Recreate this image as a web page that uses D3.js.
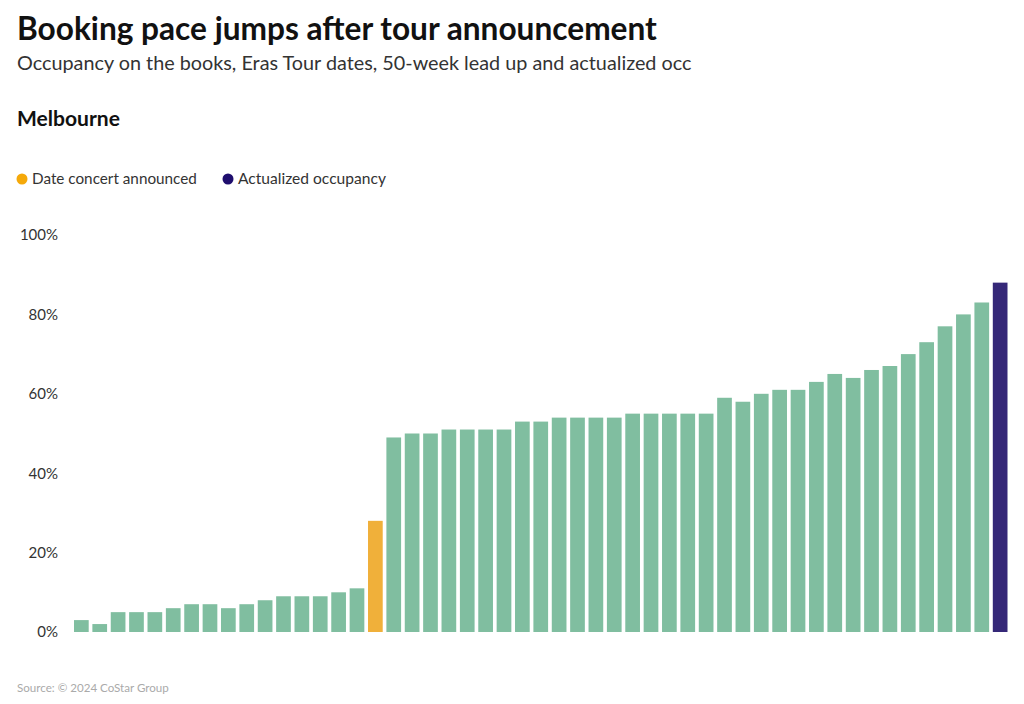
<!DOCTYPE html>
<html>
<head>
<meta charset="utf-8">
<script src="https://cdn.jsdelivr.net/npm/d3@7"></script>
<style>
  html, body { margin: 0; padding: 0; background: #fff; }
  svg { display: block; font-family: "Source Sans Pro", "Lato", "Noto Sans", sans-serif; }
</style>
</head>
<body>
<svg id="chart" width="1024" height="704"></svg>
<script>
// ---- Data ----
const weeks = d3.range(1, 52).map(d => "W" + d); // 50-week lead up + actualized
const occupancy = [3,2,5,5,5,6,7,7,6,7,8,9,9,9,10,11,28,49,50,50,51,51,51,51,53,53,54,54,54,54,55,55,55,55,55,59,58,60,61,61,63,65,64,66,67,70,73,77,80,83,88];
const barType = weeks.map((d, i) => i === 16 ? "announced" : (i === 50 ? "actual" : "lead"));
const yTicks = [0, 20, 40, 60, 80, 100];
const legendLabels = ["Date concert announced", "Actualized occupancy"];
const titleText = "Booking pace jumps after tour announcement";
const subtitleText = "Occupancy on the books, Eras Tour dates, 50-week lead up and actualized occ";
const panelText = "Melbourne";
const sourceText = "Source: © 2024 CoStar Group";

const colors = { lead: "#80bea0", announced: "#f0b03a", actual: "#352878" };
const legendColors = ["#f5a90a", "#1f0e6e"];

const svg = d3.select("#chart");

function fitText(sel, targetWidth) {
  const node = sel.node();
  const w = node.getComputedTextLength();
  const fs = parseFloat(sel.attr("font-size"));
  sel.attr("font-size", (fs * targetWidth / w).toFixed(2));
}

// Titles
fitText(svg.append("text").attr("x", 17).attr("y", 40).attr("font-size", 30)
  .attr("font-weight", 700).attr("fill", "#111").text(titleText), 640);
fitText(svg.append("text").attr("x", 17).attr("y", 70).attr("font-size", 19)
  .attr("fill", "#333").text(subtitleText), 675);
fitText(svg.append("text").attr("x", 17).attr("y", 126).attr("font-size", 19)
  .attr("font-weight", 700).attr("fill", "#111").text(panelText), 103);

// Legend
const legendX = [22, 228];
const legendW = [165, 148];
legendLabels.forEach((lab, i) => {
  svg.append("circle").attr("cx", legendX[i]).attr("cy", 179).attr("r", 5.5).attr("fill", legendColors[i]);
  fitText(svg.append("text").attr("x", legendX[i] + 10).attr("y", 184).attr("font-size", 14)
    .attr("fill", "#333").text(lab), legendW[i]);
});

// Scales
const x = d3.scaleBand().domain(weeks).range([74, 1007.5]).paddingInner(0.2).paddingOuter(0);
const y = d3.scaleLinear().domain([0, 100]).range([632, 235]);

// Y axis
const yAxis = d3.axisLeft(y).tickValues(yTicks).tickFormat(d => d + "%").tickSize(0).tickPadding(0);
const gy = svg.append("g").attr("transform", "translate(58,0)").call(yAxis);
gy.select(".domain").remove();
gy.selectAll("text").attr("font-size", 15).attr("fill", "#333")
  .attr("font-family", "'Source Sans Pro', 'Lato', 'Noto Sans', sans-serif");

// Bars
svg.append("g").selectAll("rect").data(occupancy).join("rect")
  .attr("x", (d, i) => x(weeks[i]))
  .attr("y", d => y(d))
  .attr("width", x.bandwidth())
  .attr("height", d => y(0) - y(d))
  .attr("fill", (d, i) => colors[barType[i]]);

// Source
fitText(svg.append("text").attr("x", 17).attr("y", 692).attr("font-size", 11)
  .attr("fill", "#aaa").text(sourceText), 152);
</script>
</body>
</html>
